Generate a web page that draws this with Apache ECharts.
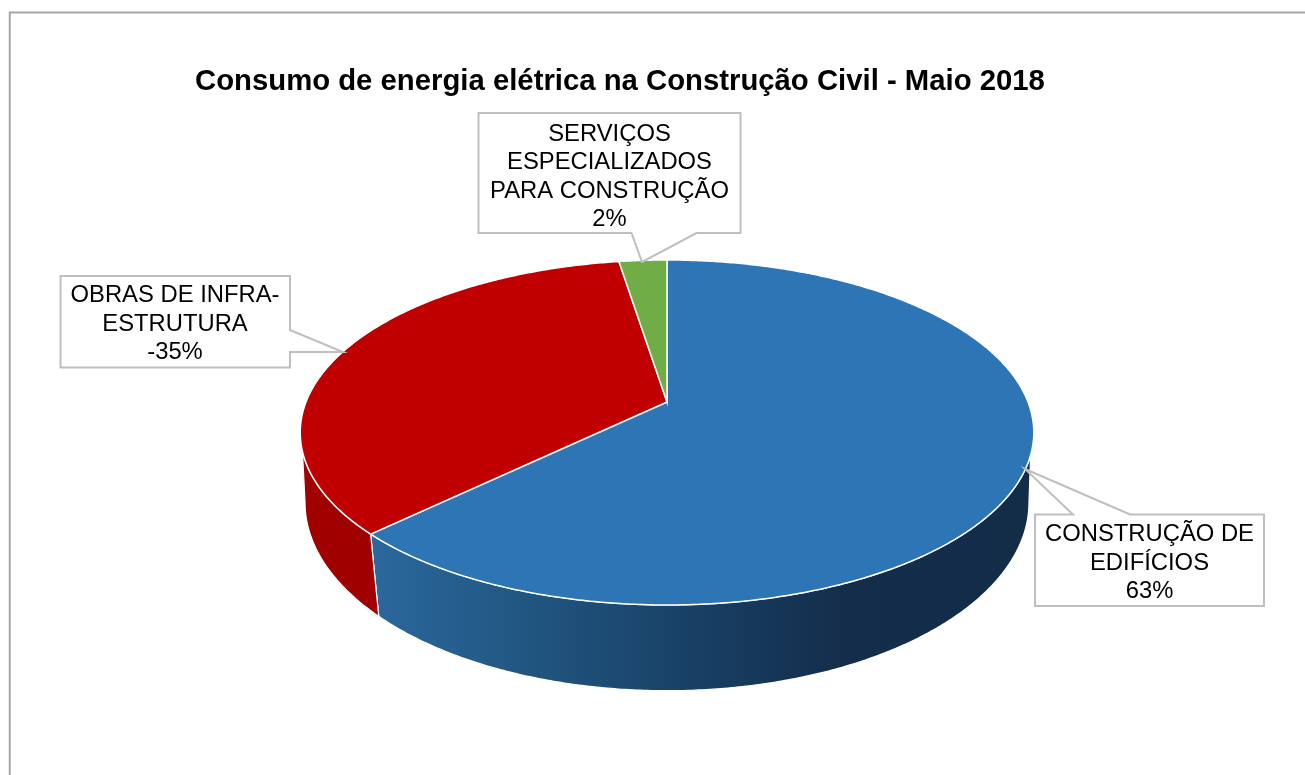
<!DOCTYPE html>
<html lang="pt">
<head>
    <meta charset="utf-8">
    <title>Consumo de energia elétrica</title>
    <script type="text/javascript" src="https://cdn.jsdelivr.net/npm/echarts@6/dist/echarts.min.js"></script>
    <style>
        html, body { margin: 0; padding: 0; background: #fff; }
    </style>
</head>
<body>
    <div id="main" style="width:1305px;height:775px;"></div>

<script type="text/javascript">
    var chartTitle = "Consumo de energia elétrica na Construção Civil - Maio 2018";
    var categories = ["CONSTRUÇÃO DE\nEDIFÍCIOS", "OBRAS DE INFRA-\nESTRUTURA", "SERVIÇOS\nESPECIALIZADOS\nPARA CONSTRUÇÃO"];
    var sliceValues = [62.8, 34.7, 2.5];
    var valueLabels = ["63%", "-35%", "2%"];
    var topColors = ["#2e75b6", "#c00000", "#70ad47"];

    var FONT = '"Liberation Sans", Arial, sans-serif';
    var totalValue = 0;
    for (var n = 0; n < sliceValues.length; n++) {
        totalValue += sliceValues[n];
    }

    // 顶面和底面的透视参数
    var topRing = {cx: 667, cy: 402, a: 361, b: 167.1, k: 0.1768};
    var bottomRing = {cx: 667, cy: 473.7, a: 357.7, b: 183.8, k: 0.153};

    function ringPoint(ring, deg) {
        var r = deg * Math.PI / 180;
        var u = Math.sin(r);
        var v = -Math.cos(r);
        var w = 1 - ring.k * v;
        return [ring.cx + ring.a * u / w, ring.cy + ring.b * v / w];
    }

    function arcPoints(ring, from, to) {
        var list = [];
        var steps = Math.max(2, Math.ceil(Math.abs(to - from) * 2));
        for (var i = 0; i <= steps; i++) {
            list.push(ringPoint(ring, from + (to - from) * i / steps));
        }
        return list;
    }

    function sliceStart(index) {
        var sum = 0;
        for (var i = 0; i < index; i++) {
            sum += sliceValues[i];
        }
        return sum / totalValue * 360;
    }

    function wallFill(index) {
        if (index === 0) {
            return new echarts.graphic.LinearGradient(370, 0, 1030, 0, [
                {offset: 0, color: "#2b689e"},
                {offset: 0.2, color: "#225985"},
                {offset: 0.5, color: "#183f64"},
                {offset: 0.72, color: "#142d4b"},
                {offset: 1, color: "#132c48"}
            ], true);
        }
        return "#a00000";
    }

    // 侧面：只画朝前的部分，外缘和切线对齐
    function renderWall(params, api) {
        var index = params.dataIndex;
        var start = sliceStart(index);
        var end = start + api.value(0) / totalValue * 360;
        var points;
        if (index === 0) {
            points = arcPoints(topRing, 107.5, end).concat(arcPoints(bottomRing, end, 98.8));
        } else if (index === 1) {
            points = arcPoints(topRing, start, 253.7).concat(arcPoints(bottomRing, 261.2, start));
        } else {
            return {type: "group", children: []};
        }
        return {
            type: "polygon",
            shape: {points: points},
            style: {fill: wallFill(index), stroke: "#ffffff", lineWidth: 1.2}
        };
    }

    function renderTop(params, api) {
        var index = params.dataIndex;
        var start = sliceStart(index);
        var end = start + api.value(0) / totalValue * 360;
        var points = [[topRing.cx, topRing.cy]].concat(arcPoints(topRing, start, end));
        return {
            type: "polygon",
            shape: {points: points},
            style: {fill: topColors[index], stroke: "#ffffff", lineWidth: 1.5}
        };
    }

    // 标注框
    function callout(points, textX, textY, index) {
        return [
            {
                type: "polygon",
                z: 10,
                shape: {points: points},
                style: {fill: "#ffffff", stroke: "#bfbfbf", lineWidth: 2}
            },
            {
                type: "text",
                z: 11,
                x: textX,
                y: textY,
                style: {
                    text: categories[index] + "\n" + valueLabels[index],
                    fill: "#000000",
                    font: "23.8px " + FONT,
                    lineHeight: 28.5,
                    align: "center",
                    verticalAlign: "middle"
                }
            }
        ];
    }

    var pieData = [];
    for (var d = 0; d < sliceValues.length; d++) {
        pieData.push({name: categories[d], value: [sliceValues[d]]});
    }

    var graphics = [{
        type: "rect",
        z: 0,
        shape: {x: 9.75, y: 12.5, width: 1500, height: 1000},
        style: {fill: "#ffffff", stroke: "#a6a6a6", lineWidth: 2}
    }];
    graphics = graphics.concat(
        callout([[1035, 514.5], [1073, 514.5], [1025, 469], [1130, 514.5], [1264, 514.5], [1264, 606], [1035, 606]], 1149.5, 563, 0),
        callout([[60.5, 276], [290, 276], [290, 330], [343, 352], [290, 352], [290, 367.5], [60.5, 367.5]], 175, 324, 1),
        callout([[478.5, 113], [740.5, 113], [740.5, 233], [696.5, 233], [642, 262], [631.5, 233], [478.5, 233]], 609.5, 177, 2)
    );

    var myChart = echarts.init(document.getElementById("main"));
    myChart.setOption({
        animation: false,
        backgroundColor: "#ffffff",
        title: {
            text: chartTitle,
            left: 190,
            top: 62,
            textStyle: {color: "#000000", fontFamily: FONT, fontWeight: "bold", fontSize: 29.3},
            z: 12
        },
        graphic: graphics,
        series: [
            {type: "custom", coordinateSystem: "none", renderItem: renderWall, data: pieData, z: 3, silent: true},
            {type: "custom", coordinateSystem: "none", renderItem: renderTop, data: pieData, z: 4, silent: true}
        ]
    });
</script>
</body>
</html>
